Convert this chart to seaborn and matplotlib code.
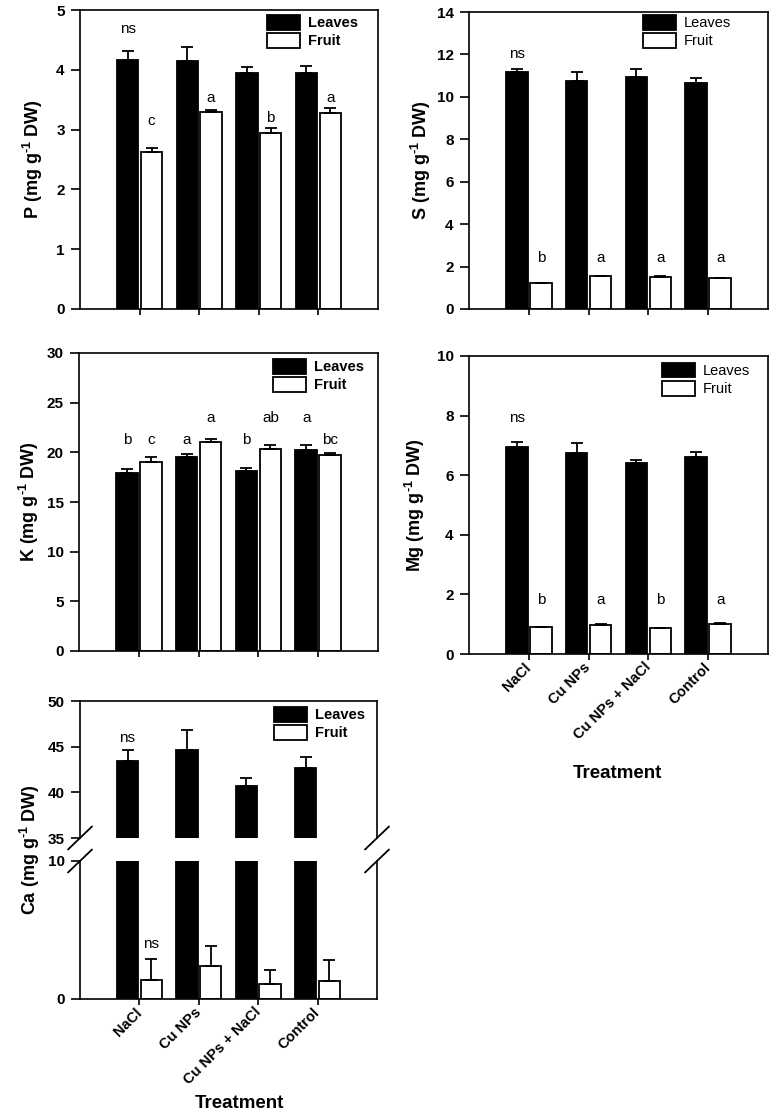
import numpy as np
import pandas as pd
import seaborn as sns
import matplotlib.pyplot as plt
from matplotlib.patches import Patch

# treatments and tissues
treatments = ['NaCl', 'Cu NPs', 'Cu NPs + NaCl', 'Control']
tissues = ['Leaves', 'Fruit']

# means and standard errors (mg g-1 DW)
p_leaves = [4.16, 4.15, 3.95, 3.95]
p_leaves_err = [0.15, 0.23, 0.10, 0.11]
p_fruit = [2.62, 3.29, 2.95, 3.28]
p_fruit_err = [0.08, 0.04, 0.08, 0.08]

s_leaves = [11.17, 10.74, 10.95, 10.66]
s_leaves_err = [0.13, 0.43, 0.35, 0.22]
s_fruit = [1.22, 1.54, 1.50, 1.46]
s_fruit_err = [0.02, 0.02, 0.04, 0.02]

k_leaves = [17.89, 19.48, 18.13, 20.25]
k_leaves_err = [0.41, 0.37, 0.34, 0.44]
k_fruit = [19.07, 21.09, 20.38, 19.74]
k_fruit_err = [0.41, 0.30, 0.34, 0.17]

mg_leaves = [6.94, 6.74, 6.40, 6.60]
mg_leaves_err = [0.19, 0.34, 0.12, 0.18]
mg_fruit = [0.89, 0.97, 0.86, 1.01]
mg_fruit_err = [0.03, 0.02, 0.02, 0.02]

ca_leaves = [43.38, 44.65, 40.69, 42.69]
ca_leaves_err = [1.27, 2.22, 0.91, 1.16]
ca_fruit = [1.37, 2.36, 1.06, 1.30]
ca_fruit_err = [1.55, 1.45, 1.04, 1.52]

# significance letters
p_leaves_lab = ['ns', '', '', '']
p_fruit_lab = ['c', 'a', 'b', 'a']
s_leaves_lab = ['ns', '', '', '']
s_fruit_lab = ['b', 'a', 'a', 'a']
k_leaves_lab = ['b', 'a', 'b', 'a']
k_fruit_lab = ['c', 'a', 'ab', 'bc']
mg_leaves_lab = ['ns', '', '', '']
mg_fruit_lab = ['b', 'a', 'b', 'a']
ca_leaves_lab = ['ns', '', '', '']
ca_fruit_lab = ['ns', '', '', '']

sns.set_theme(style='ticks')
plt.rcParams.update({
    'font.family': ['Liberation Sans', 'DejaVu Sans'],
    'font.weight': 'bold',
    'axes.labelweight': 'bold',
    'axes.edgecolor': 'black',
    'axes.linewidth': 1.2,
    'xtick.color': 'black',
    'ytick.color': 'black',
    'text.color': 'black',
    'mathtext.fontset': 'custom',
    'mathtext.rm': 'Liberation Sans:bold',
    'mathtext.it': 'Liberation Sans:bold',
    'mathtext.bf': 'Liberation Sans:bold',
})

W, H = 772, 1118
fig = plt.figure(figsize=(W / 100, H / 100), dpi=100)


def px_axes(left, top, right, bottom):
    return fig.add_axes([left / W, 1 - bottom / H, (right - left) / W, (bottom - top) / H])


def draw_bars(ax, leaves, leaves_err, fruit, fruit_err):
    df = pd.DataFrame({
        'Treatment': treatments * 2,
        'Tissue': ['Leaves'] * 4 + ['Fruit'] * 4,
        'Value': leaves + fruit,
    })
    sns.barplot(data=df, x='Treatment', y='Value', hue='Tissue', order=treatments,
                hue_order=tissues, palette={'Leaves': 'black', 'Fruit': 'white'},
                saturation=1, edgecolor='black', linewidth=1.3, width=0.8, gap=0.1,
                errorbar=None, legend=False, ax=ax)
    centers = []
    for cont, err in zip(ax.containers, [leaves_err, fruit_err]):
        xs = [b.get_x() + b.get_width() / 2 for b in cont]
        hs = [b.get_height() for b in cont]
        ax.errorbar(xs, hs, yerr=[np.zeros(len(err)), err], fmt='none', ecolor='black',
                    elinewidth=1.3, capsize=4, capthick=1.3)
        centers.append(xs)
    ax.set_xlim(-1, 4)
    ax.set_xlabel('')
    ax.set_ylabel('')
    ax.tick_params(axis='x', direction='out', length=4.5, width=1.2)
    ax.tick_params(axis='y', direction='out', length=6.5, width=1.2, pad=4.5, labelsize=11)
    return centers


def add_letters(ax, xs, labels, heights):
    for x, s, y in zip(xs, labels, heights):
        if s:
            ax.text(x, y, s, ha='center', va='center', fontsize=11, fontweight='normal')


def add_legend(ax, x, y, weight):
    handles = [Patch(facecolor='black', edgecolor='black', linewidth=1.3),
               Patch(facecolor='white', edgecolor='black', linewidth=1.3)]
    ax.legend(handles, tissues, loc='upper left', bbox_to_anchor=(x, y), frameon=False,
              prop={'size': 10.5, 'weight': weight}, handlelength=2.26, handleheight=1.16,
              handletextpad=0.55, labelspacing=0.2, borderpad=0, borderaxespad=0)


def rotated_labels(ax):
    ax.set_xticks(range(len(treatments)))
    ax.set_xticklabels(treatments, rotation=45, ha='right', va='center',
                       rotation_mode='anchor', fontsize=10.5, fontweight='bold')


ylab = r'%s (mg g$^{\text{-}1}$ DW)'

# P
ax = px_axes(80, 10, 378, 309)
c = draw_bars(ax, p_leaves, p_leaves_err, p_fruit, p_fruit_err)
ax.set_ylim(0, 5)
ax.set_yticks(range(0, 6))
ax.tick_params(axis='x', labelbottom=False)
add_letters(ax, c[0], p_leaves_lab, [4.68] * 4)
add_letters(ax, c[1], p_fruit_lab, [3.15, 3.53, 3.19, 3.53])
add_legend(ax, 0.6275, 0.983, 'bold')
fig.text(45 / W, 1 - 159.5 / H, ylab % 'P', rotation=90, ha='right', va='center', fontsize=13)

# S
ax = px_axes(469, 12, 768, 309)
c = draw_bars(ax, s_leaves, s_leaves_err, s_fruit, s_fruit_err)
ax.set_ylim(0, 14)
ax.set_yticks(range(0, 15, 2))
ax.tick_params(axis='x', labelbottom=False)
add_letters(ax, c[0], s_leaves_lab, [12.04] * 4)
add_letters(ax, c[1], s_fruit_lab, [2.40] * 4)
add_legend(ax, 0.582, 0.99, 'normal')
fig.text(433 / W, 1 - 160.5 / H, ylab % 'S', rotation=90, ha='right', va='center', fontsize=13)

# K
ax = px_axes(79, 353, 378, 651)
c = draw_bars(ax, k_leaves, k_leaves_err, k_fruit, k_fruit_err)
ax.set_ylim(0, 30)
ax.set_yticks(range(0, 31, 5))
ax.tick_params(axis='x', labelbottom=False)
add_letters(ax, c[0], k_leaves_lab, [21.26, 21.26, 21.26, 23.44])
add_letters(ax, c[1], k_fruit_lab, [21.26, 23.44, 23.44, 21.26])
add_legend(ax, 0.649, 0.98, 'bold')
fig.text(41 / W, 1 - 502 / H, ylab % 'K', rotation=90, ha='right', va='center', fontsize=13)

# Mg
ax = px_axes(469, 356, 768, 654)
c = draw_bars(ax, mg_leaves, mg_leaves_err, mg_fruit, mg_fruit_err)
ax.set_ylim(0, 10)
ax.set_yticks(range(0, 11, 2))
rotated_labels(ax)
add_letters(ax, c[0], mg_leaves_lab, [7.93] * 4)
add_letters(ax, c[1], mg_fruit_lab, [1.80] * 4)
add_legend(ax, 0.645, 0.977, 'normal')
fig.text(427 / W, 1 - 505 / H, ylab % 'Mg', rotation=90, ha='right', va='center', fontsize=13)
fig.text(617 / W, 1 - 773 / H, 'Treatment', ha='center', va='center', fontsize=13.5)

# Ca with broken axis
ax_top = px_axes(80, 701, 377, 838)
ax_bot = px_axes(80, 861, 377, 999)
c = draw_bars(ax_top, ca_leaves, ca_leaves_err, ca_fruit, ca_fruit_err)
draw_bars(ax_bot, ca_leaves, ca_leaves_err, ca_fruit, ca_fruit_err)
ax_top.set_ylim(35, 50)
ax_top.set_yticks([35, 40, 45, 50])
ax_bot.set_ylim(0, 10)
ax_bot.set_yticks([0, 10])
ax_top.spines['bottom'].set_visible(False)
ax_bot.spines['top'].set_visible(False)
ax_top.tick_params(axis='x', bottom=False, labelbottom=False)
rotated_labels(ax_bot)
add_letters(ax_top, c[0], ca_leaves_lab, [46.0] * 4)
add_letters(ax_bot, c[1], ca_fruit_lab, [4.02] * 4)
add_legend(ax_top, 0.653, 0.956, 'bold')

# break marks
dx, dy_t, dy_b = 12 / 297, 11.5 / 137, 11.5 / 138
for x0 in (0, 1):
    ax_top.plot([x0 - dx, x0 + dx], [-dy_t, dy_t], transform=ax_top.transAxes,
                color='black', lw=1.3, clip_on=False)
    ax_bot.plot([x0 - dx, x0 + dx], [1 - dy_b, 1 + dy_b], transform=ax_bot.transAxes,
                color='black', lw=1.3, clip_on=False)

fig.text(42 / W, 1 - 850 / H, ylab % 'Ca', rotation=90, ha='right', va='center', fontsize=13)
fig.text(239 / W, 1 - 1103 / H, 'Treatment', ha='center', va='center', fontsize=13.5)

fig.savefig('out.png', dpi=100)
